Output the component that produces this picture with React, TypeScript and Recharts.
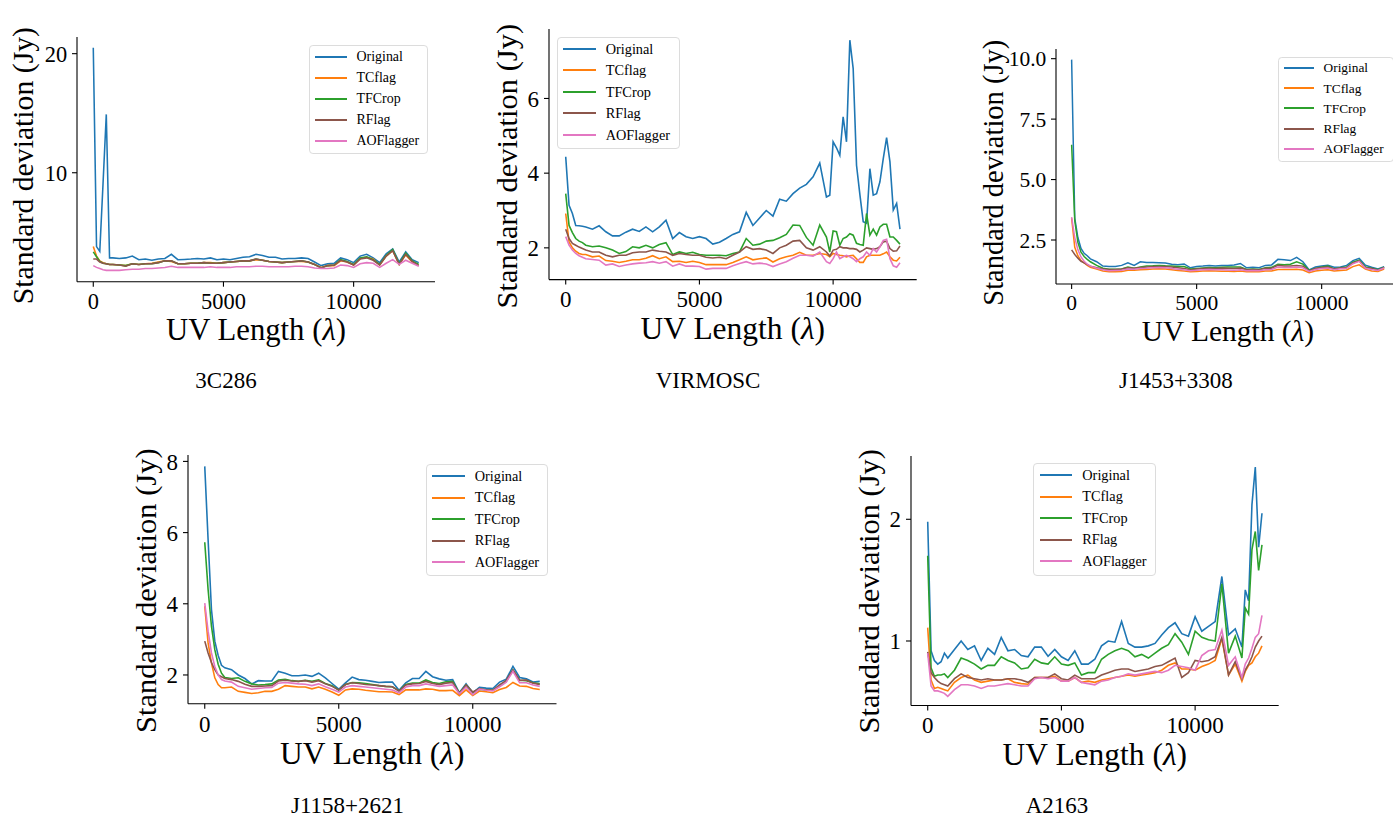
import React from 'react';
import { LineChart, Line, XAxis, YAxis, Legend } from 'recharts';

const SERIES_NAMES = ['Original', 'TCflag', 'TFCrop', 'RFlag', 'AOFlagger'];
const SERIES_COLORS = ['#1f77b4', '#ff7f0e', '#2ca02c', '#8c564b', '#e377c2'];
const X_TICKS = [0, 5000, 10000];

// UV length samples (lambda)
const UV_BASE = [0, 125, 250, 375, 500, 625, 750, 1000, 1250, 1500, 1750, 2000, 2250, 2500, 2750, 3000, 3250, 3500, 3750, 4000, 4250, 4500, 4750, 5000, 5250, 5500, 5750, 6000, 6250, 6500, 6750, 7000, 7250, 7500, 7750, 8000, 8250, 8500, 8750, 9000, 9250, 9500, 9750, 10000, 10250, 10500, 10750, 11000, 11250, 11500, 11750, 12000, 12250, 12500];
const UV_VIRMOSC = [0, 125, 250, 375, 500, 625, 750, 1000, 1250, 1500, 1750, 2000, 2250, 2500, 2750, 3000, 3250, 3500, 3750, 4000, 4250, 4500, 4750, 5000, 5250, 5500, 5750, 6000, 6250, 6500, 6750, 7000, 7250, 7500, 7750, 8000, 8250, 8500, 8750, 9000, 9250, 9500, 9750, 9875, 10000, 10125, 10250, 10375, 10500, 10625, 10750, 10875, 11000, 11125, 11250, 11375, 11500, 11625, 11750, 11875, 12000, 12125, 12250, 12375, 12500];
const UV_A2163 = [0, 125, 250, 375, 500, 625, 750, 1000, 1250, 1500, 1750, 2000, 2250, 2500, 2750, 3000, 3250, 3500, 3750, 4000, 4250, 4500, 4750, 5000, 5250, 5500, 5750, 6000, 6250, 6500, 6750, 7000, 7250, 7500, 7750, 8000, 8250, 8500, 8750, 9000, 9250, 9500, 9750, 10000, 10250, 10500, 10750, 11000, 11250, 11500, 11750, 11875, 12000, 12125, 12250, 12375, 12500];

// 3C286
const c286Original = [20.5, 3.8, 3.4, 9.1, 14.9, 2.85, 2.85,
  2.8, 2.85, 3.0, 2.7, 2.75, 2.65, 2.75, 2.8, 3.15, 2.7,
  2.72, 2.75, 2.8, 2.75, 2.85, 2.7, 2.75, 2.7, 2.8, 2.9,
  2.95, 3.15, 3.05, 2.9, 2.9, 2.75, 2.8, 2.8, 2.85, 2.8,
  2.5, 2.2, 2.35, 2.4, 2.85, 2.7, 2.45, 3.0, 3.15, 2.85,
  2.45, 3.2, 3.6, 2.5, 3.35, 2.7, 2.45];
const c286TCflag = [3.8, 3.0, 2.6, 2.45, 2.35, 2.3, 2.3,
  2.25, 2.2, 2.35, 2.3, 2.35, 2.4, 2.5, 2.6, 2.55, 2.35,
  2.35, 2.4, 2.4, 2.45, 2.45, 2.4, 2.45, 2.5, 2.55, 2.6,
  2.6, 2.7, 2.65, 2.55, 2.5, 2.45, 2.5, 2.55, 2.55, 2.5,
  2.3, 2.05, 2.2, 2.2, 2.6, 2.5, 2.25, 2.8, 2.9, 2.75,
  2.25, 3.0, 3.45, 2.3, 3.1, 2.5, 2.2];
const c286TFCrop = [3.35, 2.95, 2.55, 2.4, 2.35, 2.3, 2.3,
  2.25, 2.2, 2.35, 2.3, 2.35, 2.35, 2.45, 2.6, 2.6, 2.35,
  2.35, 2.4, 2.4, 2.45, 2.4, 2.4, 2.45, 2.5, 2.55, 2.6,
  2.6, 2.75, 2.65, 2.55, 2.5, 2.45, 2.5, 2.55, 2.6, 2.5,
  2.3, 2.0, 2.2, 2.25, 2.7, 2.55, 2.3, 2.85, 2.95, 2.7,
  2.3, 3.05, 3.55, 2.35, 3.25, 2.6, 2.3];
const c286RFlag = [2.75, 2.75, 2.5, 2.4, 2.35, 2.3, 2.3,
  2.25, 2.15, 2.35, 2.3, 2.35, 2.35, 2.45, 2.6, 2.6, 2.35,
  2.35, 2.4, 2.4, 2.45, 2.4, 2.4, 2.45, 2.5, 2.55, 2.6,
  2.6, 2.75, 2.65, 2.55, 2.5, 2.45, 2.5, 2.55, 2.6, 2.5,
  2.3, 2.0, 2.2, 2.25, 2.65, 2.5, 2.25, 2.75, 2.85, 2.65,
  2.25, 3.0, 3.45, 2.3, 3.15, 2.55, 2.2];
const c286AOFlagger = [2.2, 2.05, 1.95, 1.85, 1.8, 1.8, 1.8,
  1.8, 1.85, 1.9, 1.9, 1.95, 1.95, 2.0, 2.05, 2.15, 2.05,
  2.05, 2.05, 2.05, 2.05, 2.1, 2.05, 2.05, 2.05, 2.1, 2.1,
  2.1, 2.15, 2.15, 2.1, 2.1, 2.1, 2.1, 2.15, 2.15, 2.1,
  2.0, 1.95, 1.95, 2.0, 2.25, 2.2, 2.05, 2.35, 2.45, 2.4,
  2.05, 2.4, 2.7, 2.3, 2.65, 2.4, 2.15];

// VIRMOSC
const virOriginal = [4.44, 3.14, 2.92, 2.6, 2.59, 2.58, 2.56,
  2.5, 2.59, 2.43, 2.32, 2.32, 2.42, 2.5, 2.44, 2.56, 2.43,
  2.56, 2.74, 2.25, 2.41, 2.3, 2.25, 2.3, 2.25, 2.1, 2.15,
  2.25, 2.36, 2.43, 2.95, 2.6, 2.8, 3.0, 2.85, 3.3, 3.25,
  3.45, 3.6, 3.7, 3.9, 4.27,
  3.36, 3.41, 4.84, 4.68, 4.48, 5.51, 4.84, 7.56, 6.8, 4.21, 3.43, 2.7, 2.66, 4.12, 3.41, 3.45, 3.77, 4.39, 4.95, 4.3, 3.01, 3.19, 2.5];
const virTCflag = [2.92, 2.16, 2.0, 1.91, 1.85, 1.82, 1.82,
  1.76, 1.78, 1.66, 1.64, 1.61, 1.64, 1.68, 1.68, 1.72, 1.79,
  1.71, 1.76, 1.63, 1.64, 1.61, 1.64, 1.61, 1.55, 1.55, 1.55,
  1.55, 1.61, 1.68, 1.76, 1.68, 1.71, 1.73, 1.62, 1.71, 1.76,
  1.8, 1.88, 1.8, 1.8, 1.85,
  1.82, 1.76, 1.85, 1.82, 1.8, 1.79, 1.76, 1.79, 1.8, 1.71, 1.61, 1.61, 1.76, 1.8, 1.8, 1.8, 1.8, 1.84, 1.89, 1.76, 1.67, 1.65, 1.75];
const virTFCrop = [3.45, 2.6, 2.41, 2.25, 2.18, 2.14, 2.07,
  2.03, 2.05, 2.0, 1.94, 1.85, 1.9, 2.03, 2.0, 2.07, 2.0,
  2.09, 2.14, 1.82, 1.89, 1.85, 1.88, 1.82, 1.8, 1.8, 1.8,
  1.79, 1.85, 1.89, 2.25, 2.07, 2.1, 2.18, 2.2, 2.27, 2.36,
  2.61, 2.6, 2.28, 2.07, 2.61,
  2.29, 1.89, 2.45, 2.43, 2.07, 2.25, 2.29, 2.38, 2.34, 2.12, 2.09, 2.07, 2.92, 2.34, 2.5, 2.34, 2.56, 2.63, 2.63, 2.29, 2.29, 2.2, 2.1];
const virRFlag = [2.5, 2.25, 2.12, 2.07, 2.02, 1.98, 1.94,
  1.89, 1.89, 1.8, 1.76, 1.8, 1.8, 1.87, 1.89, 1.89, 1.94,
  1.91, 1.89, 1.8, 1.85, 1.82, 1.8, 1.8, 1.75, 1.73, 1.75,
  1.71, 1.8, 1.89, 2.03, 1.96, 1.98, 1.94, 1.85, 2.0, 2.07,
  2.18, 2.2, 2.0, 1.94, 2.03,
  1.89, 1.78, 1.94, 1.96, 2.03, 2.0, 2.0, 1.98, 1.98, 1.96, 1.89, 1.94, 2.0, 1.98, 1.96, 1.98, 2.03, 2.16, 2.18, 1.98, 1.91, 1.92, 2.05];
const virAOFlagger = [2.3, 2.07, 1.94, 1.85, 1.79, 1.75, 1.71,
  1.69, 1.67, 1.54, 1.57, 1.5, 1.54, 1.57, 1.59, 1.6, 1.63,
  1.59, 1.63, 1.51, 1.57, 1.51, 1.51, 1.5, 1.43, 1.45, 1.45,
  1.45, 1.52, 1.58, 1.63, 1.57, 1.59, 1.57, 1.5, 1.57, 1.63,
  1.72, 1.8, 1.8, 1.78, 1.89,
  1.63, 1.58, 1.71, 1.89, 1.71, 1.76, 1.8, 1.76, 1.71, 1.63, 1.71, 1.76, 1.89, 1.8, 1.98, 1.89, 2.03, 2.2, 2.23, 1.71, 1.52, 1.48, 1.6];

// J1453+3308
const j1453Original = [9.96, 3.4, 2.6, 2.15, 1.95, 1.85, 1.72,
  1.6, 1.42, 1.4, 1.4, 1.45, 1.56, 1.45, 1.6, 1.57, 1.57,
  1.56, 1.55, 1.5, 1.48, 1.51, 1.35, 1.4, 1.42, 1.45, 1.42,
  1.45, 1.45, 1.47, 1.53, 1.35, 1.37, 1.35, 1.45, 1.47, 1.7,
  1.68, 1.65, 1.78, 1.6, 1.26, 1.38, 1.42, 1.45, 1.37, 1.38,
  1.45, 1.65, 1.74, 1.46, 1.37, 1.3, 1.4];
const j1453TCflag = [3.4, 2.2, 1.85, 1.65, 1.55, 1.45, 1.37,
  1.3, 1.22, 1.19, 1.19, 1.2, 1.25, 1.25, 1.27, 1.28, 1.3,
  1.31, 1.3, 1.27, 1.24, 1.22, 1.19, 1.2, 1.22, 1.23, 1.22,
  1.21, 1.21, 1.2, 1.22, 1.19, 1.2, 1.19, 1.22, 1.22, 1.28,
  1.28, 1.28, 1.29, 1.26, 1.15, 1.22, 1.25, 1.27, 1.22, 1.24,
  1.26, 1.4, 1.47, 1.3, 1.22, 1.2, 1.3];
const j1453TFCrop = [6.44, 3.3, 2.4, 2.0, 1.82, 1.7, 1.6,
  1.45, 1.33, 1.29, 1.29, 1.3, 1.38, 1.33, 1.38, 1.42, 1.43,
  1.45, 1.43, 1.42, 1.4, 1.4, 1.3, 1.32, 1.34, 1.36, 1.35,
  1.37, 1.38, 1.38, 1.38, 1.28, 1.3, 1.28, 1.35, 1.37, 1.5,
  1.48, 1.5, 1.6, 1.5, 1.24, 1.32, 1.38, 1.42, 1.3, 1.35,
  1.38, 1.58, 1.67, 1.38, 1.33, 1.27, 1.37];
const j1453RFlag = [2.09, 1.9, 1.75, 1.62, 1.55, 1.48, 1.42,
  1.35, 1.3, 1.28, 1.28, 1.3, 1.35, 1.33, 1.36, 1.38, 1.4,
  1.4, 1.4, 1.38, 1.35, 1.32, 1.27, 1.3, 1.32, 1.33, 1.32,
  1.34, 1.33, 1.32, 1.34, 1.27, 1.28, 1.27, 1.33, 1.33, 1.45,
  1.42, 1.42, 1.45, 1.42, 1.22, 1.32, 1.36, 1.38, 1.3, 1.34,
  1.36, 1.55, 1.64, 1.35, 1.32, 1.25, 1.36];
const j1453AOFlagger = [3.45, 2.6, 2.1, 1.8, 1.62, 1.5, 1.42,
  1.33, 1.27, 1.23, 1.24, 1.25, 1.3, 1.29, 1.32, 1.33, 1.35,
  1.36, 1.35, 1.32, 1.29, 1.27, 1.23, 1.25, 1.27, 1.28, 1.27,
  1.27, 1.26, 1.25, 1.27, 1.23, 1.24, 1.23, 1.27, 1.28, 1.38,
  1.36, 1.36, 1.38, 1.35, 1.2, 1.28, 1.32, 1.34, 1.27, 1.31,
  1.33, 1.52, 1.62, 1.33, 1.28, 1.24, 1.34];

// J1158+2621
const j1158Original = [7.86, 5.8, 3.84, 2.95, 2.55, 2.27, 2.2,
  2.15, 2.0, 1.9, 1.75, 1.84, 1.83, 1.83, 2.1, 2.05, 1.98,
  1.98, 2.0, 1.96, 2.05, 1.92, 1.76, 1.6, 1.78, 1.94, 1.87,
  1.85, 1.82, 1.79, 1.8, 1.8, 1.57, 1.78, 1.9, 1.9, 2.1,
  1.95, 1.89, 1.85, 1.87, 1.5, 1.75, 1.5, 1.65, 1.63, 1.62,
  1.8, 1.88, 2.24, 1.93, 1.89, 1.8, 1.82];
const j1158TCflag = [3.93, 2.9, 2.34, 1.92, 1.73, 1.64, 1.64,
  1.66, 1.54, 1.51, 1.48, 1.5, 1.54, 1.54, 1.6, 1.7, 1.68,
  1.66, 1.66, 1.61, 1.66, 1.6, 1.52, 1.43, 1.58, 1.61, 1.6,
  1.57, 1.55, 1.53, 1.53, 1.52, 1.45, 1.58, 1.58, 1.58, 1.61,
  1.6, 1.56, 1.56, 1.57, 1.42, 1.58, 1.42, 1.55, 1.53, 1.5,
  1.59, 1.65, 1.79, 1.69, 1.68, 1.62, 1.59];
const j1158TFCrop = [5.73, 4.4, 3.37, 2.71, 2.3, 2.05, 1.93,
  1.9, 1.92, 1.82, 1.75, 1.72, 1.73, 1.75, 1.86, 1.88, 1.84,
  1.82, 1.85, 1.82, 1.86, 1.76, 1.7, 1.57, 1.73, 1.79, 1.78,
  1.76, 1.73, 1.7, 1.68, 1.67, 1.55, 1.73, 1.77, 1.77, 1.86,
  1.79, 1.76, 1.81, 1.82, 1.48, 1.72, 1.5, 1.6, 1.58, 1.57,
  1.69, 1.82, 2.14, 1.85, 1.84, 1.78, 1.75];
const j1158RFlag = [2.95, 2.62, 2.35, 2.15, 2.0, 1.95, 1.9,
  1.87, 1.82, 1.74, 1.68, 1.68, 1.69, 1.7, 1.83, 1.85, 1.83,
  1.82, 1.84, 1.8, 1.84, 1.75, 1.68, 1.58, 1.73, 1.78, 1.76,
  1.73, 1.72, 1.7, 1.68, 1.67, 1.55, 1.72, 1.75, 1.76, 1.82,
  1.76, 1.73, 1.77, 1.79, 1.48, 1.72, 1.52, 1.62, 1.58, 1.57,
  1.72, 1.85, 2.14, 1.85, 1.86, 1.77, 1.73];
const j1158AOFlagger = [4.02, 3.23, 2.62, 2.24, 2.0, 1.87, 1.83,
  1.8, 1.68, 1.64, 1.6, 1.62, 1.64, 1.65, 1.77, 1.79, 1.77,
  1.75, 1.74, 1.7, 1.75, 1.67, 1.6, 1.52, 1.66, 1.7, 1.68,
  1.66, 1.64, 1.62, 1.6, 1.58, 1.5, 1.66, 1.7, 1.7, 1.75,
  1.71, 1.68, 1.7, 1.72, 1.47, 1.66, 1.45, 1.6, 1.57, 1.55,
  1.67, 1.8, 2.1, 1.78, 1.78, 1.72, 1.68];

// A2163
const a2163Original = [1.98, 0.92, 0.84, 0.81, 0.83, 0.9, 0.86,
  0.93, 1.0, 0.93, 0.96, 0.84, 0.94, 0.89, 1.03, 0.92, 0.93,
  0.88, 0.87, 0.95, 0.95, 0.875, 0.93, 0.87, 0.84, 0.92, 0.81,
  0.81, 0.85, 0.96, 1.0, 0.99, 1.16, 0.98, 0.95, 0.95, 0.96,
  0.98, 1.05, 1.11, 1.15, 1.06, 1.04, 1.2, 1.08, 1.12, 1.16,
  1.53, 1.05, 1.1, 0.95,
  1.42, 1.33, 2.12, 2.43, 1.77, 2.05];
const a2163TCflag = [1.11, 0.68, 0.61, 0.62, 0.61, 0.6, 0.59,
  0.66, 0.7, 0.72, 0.68, 0.66, 0.67, 0.68, 0.68, 0.69, 0.66,
  0.65, 0.645, 0.7, 0.7, 0.7, 0.71, 0.67, 0.67, 0.7, 0.66,
  0.67, 0.66, 0.68, 0.69, 0.7, 0.71, 0.72, 0.71, 0.72, 0.73,
  0.74, 0.76, 0.8, 0.82, 0.77, 0.77, 0.76, 0.79, 0.81, 0.84,
  1.02, 0.72, 0.81, 0.67,
  0.75, 0.8, 0.82, 0.87, 0.9, 0.96];
const a2163TFCrop = [1.7, 0.78, 0.71, 0.72, 0.72, 0.73, 0.7,
  0.76, 0.86, 0.84, 0.81, 0.77, 0.8, 0.8, 0.87, 0.84, 0.82,
  0.77, 0.78, 0.85, 0.82, 0.81, 0.87, 0.81, 0.8, 0.82, 0.72,
  0.74, 0.74, 0.85, 0.89, 0.92, 0.94, 0.92, 0.87, 0.89, 0.86,
  0.9, 0.94, 0.97, 1.06, 0.99, 0.89, 1.08, 1.03, 1.01, 1.0,
  1.47, 0.9, 1.04, 0.86,
  1.27, 1.22, 1.75, 1.9, 1.58, 1.79];
const a2163RFlag = [0.91, 0.74, 0.7, 0.67, 0.65, 0.64, 0.63,
  0.69, 0.73, 0.7, 0.69, 0.68, 0.69, 0.68, 0.68, 0.69, 0.69,
  0.68, 0.66, 0.7, 0.7, 0.7, 0.73, 0.69, 0.68, 0.72, 0.69,
  0.69, 0.69, 0.72, 0.74, 0.76, 0.77, 0.77, 0.75, 0.76, 0.77,
  0.79, 0.8, 0.83, 0.86, 0.7, 0.74, 0.84, 0.83, 0.84, 0.87,
  1.03, 0.72, 0.83, 0.69,
  0.76, 0.81, 0.87, 0.95, 1.0, 1.04];
const a2163AOFlagger = [0.9, 0.63, 0.59, 0.59, 0.58, 0.57, 0.545,
  0.6, 0.64, 0.64, 0.63, 0.61, 0.63, 0.63, 0.64, 0.65, 0.64,
  0.63, 0.63, 0.69, 0.7, 0.69, 0.7, 0.67, 0.67, 0.7, 0.66,
  0.65, 0.64, 0.67, 0.68, 0.7, 0.71, 0.73, 0.72, 0.73, 0.74,
  0.75, 0.74, 0.76, 0.8, 0.79, 0.78, 0.76, 0.88, 0.92, 0.93,
  1.09, 0.8, 0.87, 0.7,
  0.81, 0.86, 0.94, 1.03, 1.06, 1.21];

const FONT = '"Liberation Serif", "Times New Roman", serif';
const KEYS = ['s0', 's1', 's2', 's3', 's4'];

type Box = { left: number; top: number; width: number; height: number };
type PanelSpec = {
  title: string;
  xs: number[];
  series: number[][];
  plot: Box;
  yDomain: [number, number];
  yTicks: number[];
  yFmt: (v: number) => string;
  scale: number;
  legend: Box;
  yLabelX: number;
  yLabelCY: number;
  xLabelY: number;
  titleX: number;
  titleY: number;
};

const intFmt = (v: number) => String(v);
const oneDec = (v: number) => v.toFixed(1);

const PANELS: PanelSpec[] = [
  {
    title: '3C286', xs: UV_BASE,
    series: [c286Original, c286TCflag, c286TFCrop, c286RFlag, c286AOFlagger],
    plot: { left: 77, top: 37.3, width: 358, height: 244.7 },
    yDomain: [0.85, 21.4], yTicks: [10, 20], yFmt: intFmt, scale: 0.975,
    legend: { left: 308.7, top: 45, width: 119.5, height: 109 },
    yLabelX: 33, yLabelCY: 166, xLabelY: 340, titleX: 226, titleY: 388,
  },
  {
    title: 'VIRMOSC', xs: UV_VIRMOSC,
    series: [virOriginal, virTCflag, virTFCrop, virRFlag, virAOFlagger],
    plot: { left: 549, top: 28.8, width: 367.7, height: 250.6 },
    yDomain: [1.15, 7.86], yTicks: [2, 4, 6], yFmt: intFmt, scale: 1.0,
    legend: { left: 556.7, top: 36.7, width: 123.3, height: 112.3 },
    yLabelX: 517, yLabelCY: 166, xLabelY: 339, titleX: 708, titleY: 388,
  },
  {
    title: 'J1453+3308', xs: UV_BASE,
    series: [j1453Original, j1453TCflag, j1453TFCrop, j1453RFlag, j1453AOFlagger],
    plot: { left: 1056.1, top: 49.3, width: 343.8, height: 235 },
    yDomain: [0.68, 10.4], yTicks: [2.5, 5.0, 7.5, 10.0], yFmt: oneDec, scale: 0.935,
    legend: { left: 1277.7, top: 56.7, width: 116, height: 105 },
    yLabelX: 1003, yLabelCY: 173, xLabelY: 341, titleX: 1176, titleY: 388,
  },
  {
    title: 'J1158+2621', xs: UV_BASE,
    series: [j1158Original, j1158TCflag, j1158TFCrop, j1158RFlag, j1158AOFlagger],
    plot: { left: 187.5, top: 455.3, width: 368.5, height: 248.8 },
    yDomain: [1.19, 8.18], yTicks: [2, 4, 6, 8], yFmt: intFmt, scale: 1.0,
    legend: { left: 425.7, top: 464, width: 122, height: 112 },
    yLabelX: 156, yLabelCY: 591, xLabelY: 764, titleX: 347, titleY: 813,
  },
  {
    title: 'A2163', xs: UV_A2163,
    series: [a2163Original, a2163TCflag, a2163TFCrop, a2163RFlag, a2163AOFlagger],
    plot: { left: 911, top: 455.7, width: 367.7, height: 249.5 },
    yDomain: [0.47, 2.52], yTicks: [1, 2], yFmt: intFmt, scale: 1.0,
    legend: { left: 1033.3, top: 463, width: 122.4, height: 113 },
    yLabelX: 879, yLabelCY: 591, xLabelY: 765, titleX: 1057, titleY: 813,
  },
];

const ML = 110;
const MR = 14;
const MT = 14;
const XH = 130;

function Panel({ spec }: { spec: PanelSpec }) {
  const s = spec.scale;
  const chartLeft = spec.plot.left - ML;
  const chartTop = spec.plot.top - MT;
  const W = ML + spec.plot.width + MR;
  const H = MT + spec.plot.height + XH;
  const data = spec.xs.map((x, i) => {
    const row: Record<string, number> = { x };
    KEYS.forEach((k, j) => {
      row[k] = spec.series[j][i];
    });
    return row;
  });
  const tickFont = 23 * s;
  const xLabelFont = 31.5 * s;
  const yLabelFont = 30.5 * s;
  const legFont = 14.3 * s;

  const xLabel = () => (
    <g>
      <text
        x={ML + spec.plot.width / 2}
        y={spec.xLabelY - chartTop}
        textAnchor="middle"
        fontFamily={FONT}
        fontSize={xLabelFont}
        fill="#000"
      >
        UV Length (<tspan fontStyle="italic">λ</tspan>)
      </text>
      <text
        x={spec.titleX - chartLeft}
        y={spec.titleY - chartTop}
        textAnchor="middle"
        fontFamily={FONT}
        fontSize={23}
        fill="#000"
      >
        {spec.title}
      </text>
    </g>
  );
  const yLabel = () => {
    const lx = spec.yLabelX - chartLeft;
    const ly = spec.yLabelCY - chartTop;
    return (
      <text
        x={lx}
        y={ly}
        transform={`rotate(-90 ${lx} ${ly})`}
        textAnchor="middle"
        fontFamily={FONT}
        fontSize={yLabelFont}
        fill="#000"
      >
        Standard deviation (Jy)
      </text>
    );
  };

  const lg = spec.legend;
  const renderLegend = () => (
    <div
      style={{
        position: 'relative',
        width: lg.width,
        height: lg.height,
        boxSizing: 'border-box',
        border: '1px solid #dcdcdc',
        borderRadius: 4 * s,
        background: 'rgba(255,255,255,0.85)',
        fontFamily: FONT,
      }}
    >
      {SERIES_NAMES.map((name, i) => {
        const cy = (11.3 + i * 21.5) * s;
        return (
          <div key={name}>
            <div
              style={{
                position: 'absolute',
                left: 5.3 * s,
                width: 32.7 * s,
                top: cy - 1,
                height: 2,
                background: SERIES_COLORS[i],
              }}
            />
            <div
              style={{
                position: 'absolute',
                left: 48 * s,
                top: cy - 0.51 * legFont,
                fontSize: legFont,
                lineHeight: `${legFont}px`,
                color: '#000',
                whiteSpace: 'nowrap',
              }}
            >
              {name}
            </div>
          </div>
        );
      })}
    </div>
  );

  return (
    <div style={{ position: 'absolute', left: chartLeft, top: chartTop, width: W, height: H }}>
      <LineChart width={W} height={H} data={data} margin={{ top: MT, right: MR, bottom: 0, left: 0 }}>
        <XAxis
          type="number"
          dataKey="x"
          domain={[-625, 13125]}
          ticks={X_TICKS}
          interval={0}
          allowDataOverflow
          height={XH}
          tickSize={5}
          tickMargin={6.5 * s}
          tick={{ fontSize: tickFont, fontFamily: FONT, fill: '#000' }}
          axisLine={{ stroke: '#000', strokeWidth: 1.1 }}
          tickLine={{ stroke: '#000', strokeWidth: 1.1 }}
          label={xLabel}
        />
        <YAxis
          type="number"
          domain={spec.yDomain}
          ticks={spec.yTicks}
          interval={0}
          allowDataOverflow
          width={ML}
          tickSize={5}
          tickMargin={5 * s}
          tickFormatter={spec.yFmt}
          tick={{ fontSize: tickFont, fontFamily: FONT, fill: '#000' }}
          axisLine={{ stroke: '#000', strokeWidth: 1.1 }}
          tickLine={{ stroke: '#000', strokeWidth: 1.1 }}
          label={yLabel}
        />
        <Legend
          layout="vertical"
          align="center"
          verticalAlign="middle"
          content={renderLegend}
          wrapperStyle={{
            left: lg.left - chartLeft,
            top: lg.top - chartTop,
            width: lg.width,
            height: lg.height,
            margin: 0,
            padding: 0,
          }}
        />
        {KEYS.map((k, j) => (
          <Line
            key={k}
            type="linear"
            dataKey={k}
            name={SERIES_NAMES[j]}
            stroke={SERIES_COLORS[j]}
            strokeWidth={1.6 * s}
            dot={false}
            activeDot={false}
            isAnimationActive={false}
          />
        ))}
      </LineChart>
    </div>
  );
}

export default function App() {
  return (
    <div
      style={{
        position: 'absolute',
        left: 0,
        top: 0,
        width: 1393,
        height: 819,
        overflow: 'hidden',
        background: '#fff',
      }}
    >
      {PANELS.map((p) => (
        <Panel key={p.title} spec={p} />
      ))}
    </div>
  );
}
